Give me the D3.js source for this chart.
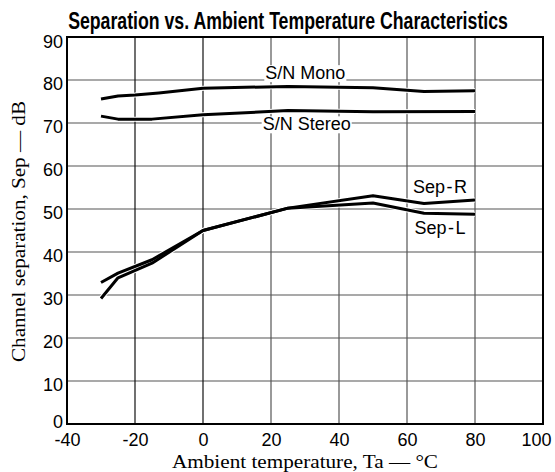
<!DOCTYPE html>
<html><head><meta charset="utf-8">
<script src="https://cdn.jsdelivr.net/npm/d3@7/dist/d3.min.js"></script>
<style>body{margin:0;background:#fff}svg{display:block}</style>
</head><body>
<svg id="c" width="555" height="472"></svg>
<script>
const xTicks = [-40,-20,0,20,40,60,80,100];
const yTicks = [0,10,20,30,40,50,60,70,80,90];
const monoT = [-30,-25,-20,-13,0,25,50,65,80];
const monoV = [75.6,76.3,76.5,77.0,78.1,78.5,78.2,77.3,77.5];
const stereoT = [-30,-25,-15,0,25,50,80];
const stereoV = [71.6,70.9,70.9,71.9,72.9,72.6,72.7];
const sepRT = [-30,-25,-15,0,25,50,65,80];
const sepRV = [32.9,35.1,38.2,45,50.2,53.1,51.3,52.1];
const sepLT = [-30,-25,-15,0,25,50,65,80];
const sepLV = [29.2,34.0,37.4,45,50.2,51.4,49.0,48.8];
const labels = [
  {text:"S/N Mono", t:30.1, v:80.2},
  {text:"S/N Stereo", t:30.5, v:68.3},
  {text:"Sep\u200A-\u200AR", t:69.7, v:53.7},
  {text:"Sep\u200A-\u200AL", t:69.7, v:44.2}
];

const svg = d3.select("#c");
const L=67,R=543,T=37,B=424;
const x = d3.scaleLinear().domain([-40,100]).range([L,R]);
const y = d3.scaleLinear().domain([0,90]).range([B,T]);
const sans = "Liberation Sans, Arial, sans-serif";
const serif = "Liberation Serif, Times New Roman, serif";

// grid
svg.append("g").selectAll("line").data(yTicks.slice(1,-1)).join("line")
  .attr("x1",L).attr("x2",R).attr("y1",d=>y(d)).attr("y2",d=>y(d))
  .attr("stroke","#555").attr("stroke-width",1.2);
svg.append("g").selectAll("line").data(xTicks.slice(1,-1)).join("line")
  .attr("y1",T).attr("y2",B).attr("x1",d=>x(d)).attr("x2",d=>x(d))
  .attr("stroke",d=>d<=0?"#111":"#555").attr("stroke-width",1.2);

// labels with white background
const lab = svg.append("g");
labels.forEach(l=>{
  const tx = lab.append("text").attr("x",x(l.t)).attr("y",y(l.v)).attr("text-anchor","middle")
    .attr("font-family",sans).attr("font-size",18).attr("fill","#000").text(l.text);
  const bb = tx.node().getBBox();
  lab.insert("rect","text").attr("x",bb.x-1).attr("y",bb.y+2).attr("width",bb.width+2).attr("height",bb.height-3).attr("fill","#fff");
});

// lines
const line = d3.line().x(d=>x(d[0])).y(d=>y(d[1]));
const series = [[monoT,monoV],[stereoT,stereoV],[sepRT,sepRV],[sepLT,sepLV]];
series.forEach(([t,v])=>{
  svg.append("path").datum(t.map((d,i)=>[d,v[i]])).attr("d",line)
    .attr("fill","none").attr("stroke","#fff").attr("stroke-width",5).attr("stroke-linejoin","round");
});
series.forEach(([t,v])=>{
  svg.append("path").datum(t.map((d,i)=>[d,v[i]])).attr("d",line)
    .attr("fill","none").attr("stroke","#000").attr("stroke-width",3).attr("stroke-linejoin","round");
});

// frame
svg.append("rect").attr("x",L).attr("y",T).attr("width",R-L).attr("height",B-T)
  .attr("fill","none").attr("stroke","#000").attr("stroke-width",2);

// axes
const fmt = d=>String(d);
const xa = svg.append("g").attr("transform",`translate(0,${B})`)
  .call(d3.axisBottom(x).tickValues(xTicks).tickSize(0).tickPadding(0).tickFormat(fmt));
const ya = svg.append("g").attr("transform",`translate(${L},0)`)
  .call(d3.axisLeft(y).tickValues(yTicks).tickSize(0).tickPadding(4).tickFormat(fmt));
[xa,ya].forEach(a=>{
  a.select(".domain").remove();
  a.selectAll("text").attr("font-family",sans).attr("font-size",18).attr("fill","#000");
});
xa.selectAll("text").attr("y",22).attr("dy",0);
xa.selectAll(".tick").filter(d=>d===100).select("text").attr("text-anchor","end").attr("x",8);
ya.selectAll("text").attr("dy",0).attr("y",9);
ya.selectAll(".tick").filter(d=>d===0).select("text").attr("y",3);
ya.selectAll(".tick").filter(d=>d===90).select("text").attr("y",10);

// title (horizontally condensed to mimic a narrow bold face)
const title = svg.append("text").attr("text-anchor","middle")
  .attr("font-family",sans).attr("font-weight","bold").attr("fill","#000")
  .attr("font-size",23.5).text("Separation vs. Ambient Temperature Characteristics");
const tw = title.node().getComputedTextLength();
title.attr("transform",`translate(288,29) scale(${440/tw},1)`);

// axis titles
svg.append("text").attr("x",305).attr("y",467.5).attr("text-anchor","middle")
  .attr("font-family",serif).attr("font-size",19).attr("fill","#000")
  .attr("textLength",266).attr("lengthAdjust","spacingAndGlyphs")
  .text("Ambient temperature, Ta \u2014 \u00B0C");
svg.append("text").attr("transform","translate(25,231.5) rotate(-90)").attr("text-anchor","middle")
  .attr("font-family",serif).attr("font-size",19).attr("fill","#000")
  .attr("textLength",261).attr("lengthAdjust","spacingAndGlyphs")
  .text("Channel separation, Sep \u2014 dB");
</script>
</body></html>
